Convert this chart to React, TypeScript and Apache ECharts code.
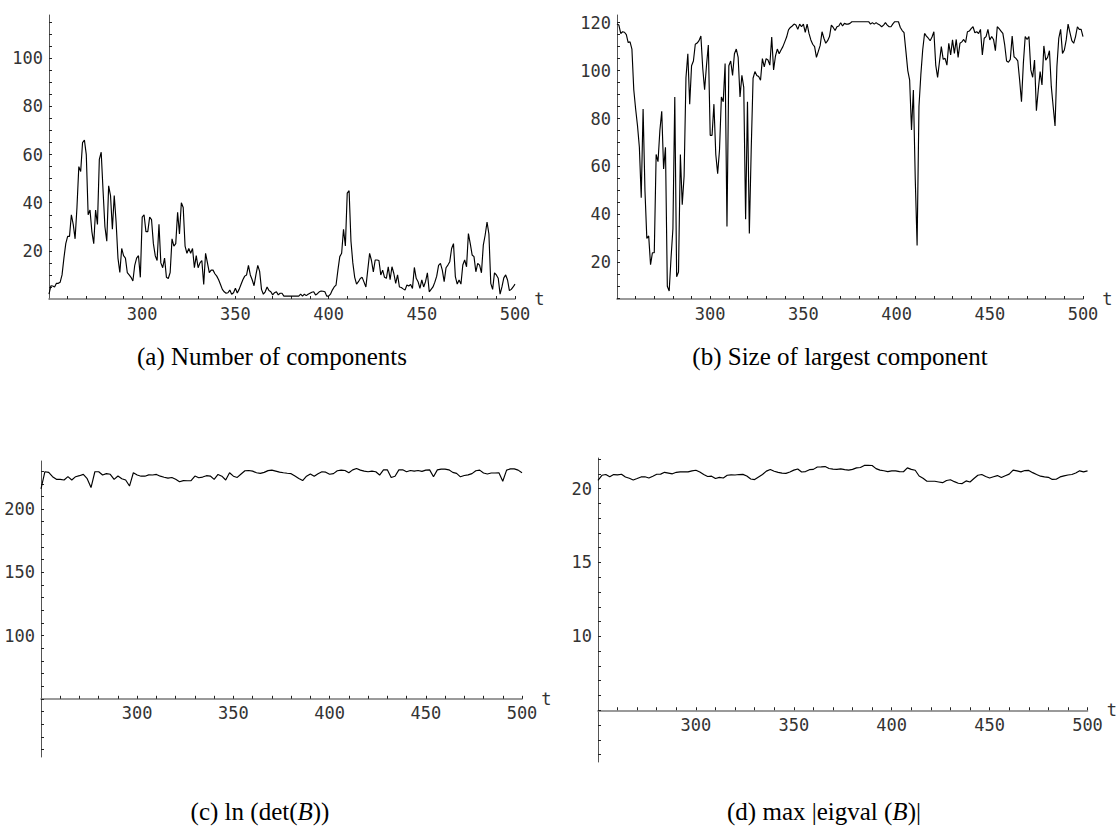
import React, { useEffect, useRef } from "react";
import * as echarts from "echarts";

// ---------- data ----------
// (a) number of components, one value per t = 250..500
const numComponents = [
  2, 5.5, 5.4, 5, 6.5, 6.5, 7, 10, 17, 23,
  26, 26, 35, 31, 25, 38, 55, 53, 65, 66,
  60, 35, 37, 28, 23, 37, 31, 58, 61, 45,
  30, 24, 47, 43, 29, 43, 32, 17, 11, 21,
  18, 17, 11, 10, 9, 7.5, 14, 17, 18, 9,
  34, 35, 28, 28, 34, 33, 23, 18, 16, 31,
  15, 13, 17, 9, 8.5, 11, 25, 22, 23, 36,
  27, 40, 38, 22, 19, 21, 19, 21, 13, 18,
  13, 15, 16, 6, 19, 15, 11, 12, 12, 10.5,
  9.5, 8, 6, 4, 3, 2.4, 2.6, 3.7, 2, 2.6,
  4.5, 2.5, 4, 6, 8, 9.5, 10, 14, 10, 8,
  5.5, 10, 14, 11.5, 4, 2, 3, 5, 3.5, 3,
  1.7, 2.6, 3, 1.7, 2.4, 2.4, 1.2, 1.2, 1.2, 1.2,
  1.2, 1.2, 1.2, 1.2, 1.2, 2, 1.2, 2, 1.4, 2,
  2.4, 2.8, 3, 1.7, 2.2, 3, 3.3, 3.2, 3, 1.2,
  1.2, 2, 3.7, 5, 5.8, 12, 17.6, 19, 29, 22,
  44, 45, 24, 15, 9, 6.2, 7.2, 8.5, 9, 7,
  5, 12, 19, 16, 11.3, 16.2, 16.2, 16, 10, 12,
  9, 8.6, 13.4, 8, 13.4, 10.6, 6.5, 10, 5, 4.8,
  4.2, 3.7, 5.8, 5.4, 6, 4.4, 13.1, 8.6, 7.2, 4.4,
  7.9, 5, 7.2, 10.9, 3, 4, 5, 7, 9.5, 14,
  14.8, 12, 7.2, 13, 14.1, 15.5, 21, 23, 9.3, 6.2,
  7.9, 6.2, 14.1, 16.2, 13.4, 27.2, 23, 18.3, 17.6, 11.3,
  14.8, 14.1, 10.9, 22.4, 26.6, 32, 27, 6.5, 4, 10.9,
  10, 8.6, 2, 5, 8.8, 10, 7.9, 3.5, 4, 5,
  6.2,
];

// (b) size of largest component, one value per t = 250..500
const largestComponent = [
  119.5, 119, 115.5, 116.2, 116, 115, 111.7, 112, 109, 92,
  84, 77, 68, 47, 84, 50, 30, 31, 19, 24,
  24, 65, 62, 75, 83, 59, 68, 10, 8, 22,
  34, 89, 14, 16, 65, 44, 56, 97, 107, 86,
  102, 104, 111, 111.5, 112.5, 114.4, 101, 92, 102, 110.7,
  73, 73, 86, 65, 57, 67, 89, 87, 103, 35,
  102, 104, 98, 107, 109, 105.5, 89, 98, 93, 38,
  87, 32, 67, 96.8, 99.6, 98, 97.5, 96, 105, 101.6,
  105, 104.4, 102.3, 114, 100.3, 106, 109, 107, 108.6, 110,
  112, 114, 117, 118, 118.6, 119.4, 119, 117.2, 119.4, 118.3,
  119.4, 116, 119.4, 115.5, 112.8, 111, 110, 105.5, 108, 110.5,
  116.2, 113.5, 111.4, 112.5, 114.2, 119, 118, 116.7, 118.3, 118.6,
  120, 118.6, 119.7, 119.4, 119.4, 119.7, 120.4, 120.4, 120.4, 120.4,
  120.4, 120.4, 120.4, 120.4, 120.4, 120.4, 119.4, 120, 119.4, 120,
  119.4, 119, 118.3, 119, 120, 119, 118.3, 118.3, 119.5, 120.4,
  120.4, 120.4, 118, 116.7, 115.8, 108, 100, 96, 75.2, 91.9,
  55, 27, 85, 98.2, 108.6, 115.5, 114.4, 113.5, 112.5, 114,
  116.2, 102.3, 97.2, 103.7, 110, 104.7, 105.1, 102.3, 111.4, 106.5,
  112.8, 107.2, 113, 105.5, 111.4, 112, 113, 111.7, 116.2, 116.5,
  117.5, 118.3, 115.8, 116.2, 115.5, 117.2, 106.5, 113.5, 114.2, 117.2,
  112.8, 114.2, 113, 108.3, 118.3, 117.5, 116.5, 115.5, 110.7, 104,
  103.5, 104.7, 114.4, 105.8, 105.1, 104.1, 96.1, 87, 103, 114.2,
  113, 114.2, 100.3, 97.2, 104.4, 83.3, 91.9, 99.6, 94, 110.3,
  104.4, 105.5, 108.3, 93.3, 85, 76.9, 101.6, 113.5, 117.2, 107.2,
  108.6, 112.8, 119.4, 115.8, 112.5, 111.4, 114.2, 118.3, 117.2, 117.2,
  114.2,
];

// (c) ln(det(B)), one value per t = 250, 252, ..., 500
const lnDet = [
  216, 229.5, 229, 225.6, 223.5, 223.5, 223, 225.6, 223, 225.6,
  226.4, 227.4, 224, 217, 229.5, 229.5, 226.9, 228, 227.5, 223.5,
  226.1, 224, 223, 218.2, 228.7, 226.9, 226, 226, 227, 226.9,
  227.4, 226, 225.2, 224.5, 225, 223.5, 221.6, 222.5, 222.4, 222.4,
  226.1, 224.8, 225.3, 226.4, 226.1, 223.5, 227.4, 226, 223, 228.7,
  226, 225, 227.7, 230.3, 230.5, 230, 228.7, 228.2, 229, 230.4,
  230.8, 230, 229.2, 228.7, 228.3, 228, 226.1, 224.2, 222.5, 226,
  227.8, 226, 228, 229.5, 229.2, 227.5, 228, 230.3, 230.8, 230.5,
  228.7, 231, 232.1, 230.8, 230, 229.5, 230, 229.5, 226.9, 231,
  231, 225, 226, 231, 231, 229.5, 230.5, 230, 230.5, 229.8,
  230.8, 231, 225.6, 231, 231.6, 231.6, 231, 229, 228.2, 225.5,
  226.5, 227, 228, 230.3, 230.8, 228.5, 227.7, 228.5, 228.5, 228.7,
  222, 230.8, 231.8, 231.8, 230.8, 228.7,
];

// (d) max |eigval(B)|, one value per t = 250, 252, ..., 500
const maxEigval = [
  20.56, 20.9, 20.95, 20.8, 20.95, 20.93, 20.97, 20.78, 20.7, 20.58,
  20.68, 20.79, 20.8, 20.72, 20.84, 20.97, 20.98, 21.1, 21.05, 21.0,
  21.1, 21.13, 21.14, 21.13, 21.2, 21.24, 21.12, 20.95, 20.82, 20.84,
  20.68, 20.76, 20.72, 20.9, 20.93, 20.92, 20.95, 20.96, 20.85, 20.65,
  20.61, 20.78, 20.95, 21.18, 21.29, 21.17, 21.1, 21.05, 21.03, 21.12,
  21.25, 21.33, 21.12, 21.15, 21.28, 21.3, 21.46, 21.47, 21.49, 21.36,
  21.32, 21.3, 21.33, 21.28, 21.25, 21.3, 21.4, 21.43, 21.57, 21.58,
  21.56, 21.35, 21.25, 21.21, 21.15, 21.2, 21.2, 21.15, 21.14, 21.4,
  21.3, 21.24, 20.85, 20.7, 20.5, 20.5, 20.5, 20.45, 20.4, 20.55,
  20.6, 20.47, 20.36, 20.34, 20.52, 20.45, 20.68, 20.9, 20.95, 20.82,
  20.72, 20.8, 20.88, 20.75, 20.87, 20.98, 21.25, 21.2, 21.13, 21.22,
  21.23, 21.08, 20.95, 20.84, 20.79, 20.76, 20.62, 20.63, 20.79, 20.86,
  20.92, 20.95, 21.05, 21.2, 21.13, 21.2,
];

const T_START = 250;
const T_END = 500;
const xTickLabels = [300, 350, 400, 450, 500];
const yTickLabelsA = [20, 40, 60, 80, 100];
const yTickLabelsB = [20, 40, 60, 80, 100, 120];
const yTickLabelsC = [100, 150, 200];
const yTickLabelsD = [10, 15, 20];

const captions = [
  "(a) Number of components",
  "(b) Size of largest component",
  "(c) ln (det({i|B}))",
  "(d) max |eigval ({i|B})|",
];

// ---------- helpers ----------
const range = (a: number, b: number, s: number) => {
  const r: number[] = [];
  for (let v = a; v <= b + 1e-9; v += s) r.push(+v.toFixed(4));
  return r;
};
const withTime = (vals: number[], step: number) =>
  vals.map((v, i) => [T_START + i * step, v]);

const MONO = "'DejaVu Sans Mono', monospace";
const SERIF = "'Liberation Serif', 'DejaVu Serif', serif";

type Panel = {
  grid: { left: number; top: number; width: number; height: number };
  yMin: number;
  yMax: number;
  xCross: number;
  yLabels: number[];
  yTicks: number[];
  data: number[][];
  caption: { text: string; x: number; y: number };
};

const panels: Panel[] = [
  {
    grid: { left: 49, top: 15, width: 466, height: 284 },
    yMin: 0, yMax: 118, xCross: 0,
    yLabels: yTickLabelsA, yTicks: range(5, 115, 5),
    data: withTime(numComponents, 1),
    caption: { text: captions[0], x: 272, y: 356 },
  },
  {
    grid: { left: 617, top: 15, width: 466, height: 284 },
    yMin: 4.7, yMax: 123.2, xCross: 4.7,
    yLabels: yTickLabelsB, yTicks: range(5, 120, 5),
    data: withTime(largestComponent, 1),
    caption: { text: captions[1], x: 840, y: 356 },
  },
  {
    grid: { left: 41, top: 461, width: 481, height: 296 },
    yMin: 4, yMax: 238, xCross: 50,
    yLabels: yTickLabelsC, yTicks: range(10, 230, 10),
    data: withTime(lnDet, 2),
    caption: { text: captions[2], x: 260, y: 811 },
  },
  {
    grid: { left: 598, top: 458, width: 492, height: 304 },
    yMin: 1.5, yMax: 22.07, xCross: 5,
    yLabels: yTickLabelsD, yTicks: range(2, 22, 1),
    data: withTime(maxEigval, 2),
    caption: { text: captions[3], x: 824, y: 811 },
  },
];

const labelStyle = { fontFamily: MONO, fontSize: 17, color: "#333" };

function buildOption() {
  return {
    animation: false,
    backgroundColor: "#fff",
    grid: panels.map((p) => ({ ...p.grid, containLabel: false })),
    xAxis: panels.map((p, i) => ({
      type: "value",
      gridIndex: i,
      min: T_START,
      max: T_END,
      position: "bottom",
      offset: -(p.grid.height * (p.xCross - p.yMin)) / (p.yMax - p.yMin),
      name: "t",
      nameLocation: "end",
      nameGap: 12,
      nameTextStyle: { ...labelStyle },
      axisLine: { show: true, onZero: false, lineStyle: { color: "#7a7a7a", width: 1.6 } },
      axisTick: {
        show: true,
        inside: true,
        length: 3,
        customValues: range(260, 500, 10),
        lineStyle: { color: "#222", width: 1 },
      },
      axisLabel: { ...labelStyle, margin: 6, customValues: xTickLabels },
      splitLine: { show: false },
    })),
    yAxis: panels.map((p, i) => ({
      type: "value",
      gridIndex: i,
      min: p.yMin,
      max: p.yMax,
      position: "left",
      axisLine: { show: true, onZero: false, lineStyle: { color: "#555", width: 1 } },
      axisTick: {
        show: true,
        inside: true,
        length: 3,
        customValues: p.yTicks,
        lineStyle: { color: "#222", width: 1 },
      },
      axisLabel: { ...labelStyle, margin: 6, customValues: p.yLabels },
      splitLine: { show: false },
    })),
    series: panels.map((p, i) => ({
      type: "line",
      xAxisIndex: i,
      yAxisIndex: i,
      data: p.data,
      showSymbol: false,
      symbol: "none",
      silent: true,
      lineStyle: { color: "#000", width: 1.15 },
    })),
    graphic: panels.map((p) => ({
      type: "text",
      x: p.caption.x,
      y: p.caption.y,
      style: {
        text: p.caption.text,
        fontFamily: SERIF,
        fontSize: 25,
        fill: "#000",
        align: "center",
        verticalAlign: "middle",
        rich: {
          i: { fontFamily: SERIF, fontSize: 25, fontStyle: "italic", fill: "#000" },
        },
      },
    })),
  };
}

export default function App() {
  const ref = useRef<HTMLDivElement>(null);
  useEffect(() => {
    if (!ref.current) return;
    const chart = echarts.init(ref.current, undefined, { renderer: "svg" });
    chart.setOption(buildOption() as any);
    return () => chart.dispose();
  }, []);
  return (
    <div
      ref={ref}
      style={{ position: "absolute", left: 0, top: 0, width: 1118, height: 835, background: "#fff" }}
    />
  );
}
